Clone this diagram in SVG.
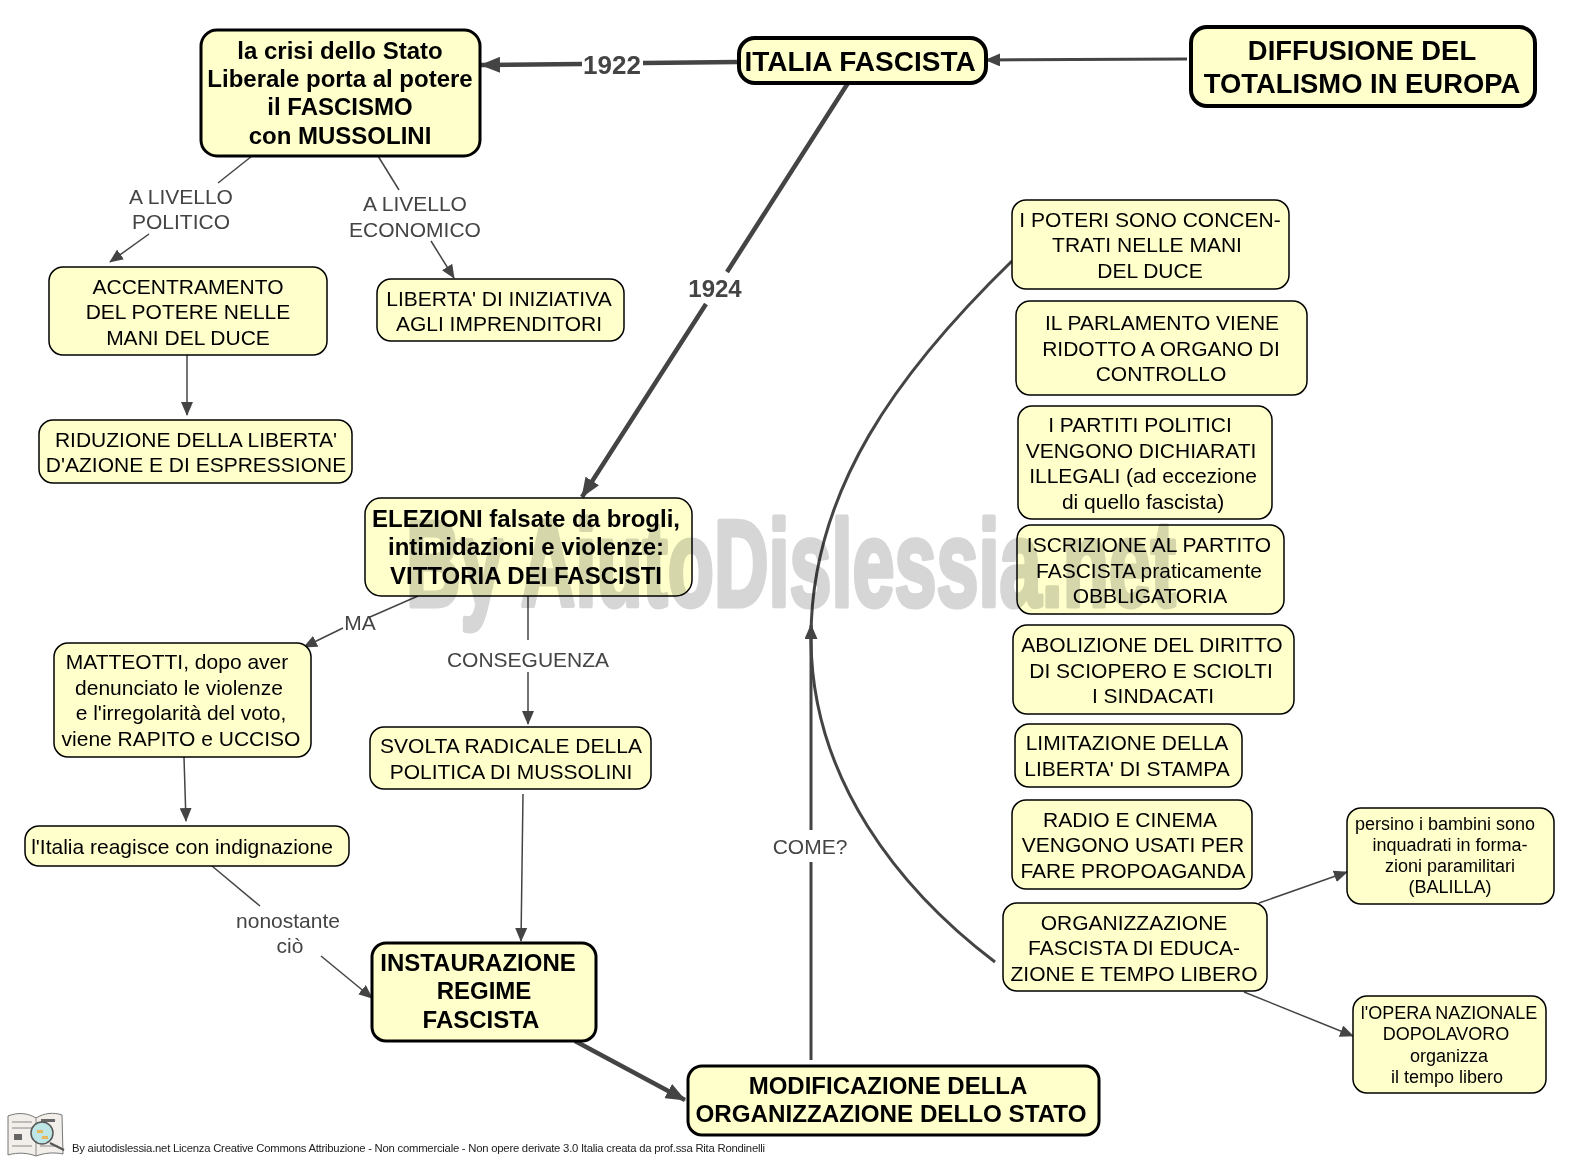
<svg xmlns="http://www.w3.org/2000/svg" width="1578" height="1160" viewBox="0 0 1578 1160">
<style>
text{font-family:"Liberation Sans",Arial,sans-serif;text-anchor:middle;fill:#000}
.b{fill:#ffffcc;stroke:#000;stroke-width:1.5}
.m{stroke-width:3}
.h{stroke-width:4}
.t{font-size:21px}
.s{font-size:18px}
.bt{font-size:24px;font-weight:bold}
.l{font-size:21px;fill:#444}
.c{fill:none;stroke:#444;stroke-width:1.5}
.c2{fill:none;stroke:#444;stroke-width:3}
.c3{fill:none;stroke:#444;stroke-width:4.5}
</style>
<defs>
<marker id="a" markerUnits="userSpaceOnUse" markerWidth="14" markerHeight="12" refX="13" refY="6" orient="auto"><path d="M0 0L14 6L0 12Z" fill="#444"/></marker>
<marker id="a1" markerUnits="userSpaceOnUse" markerWidth="15" markerHeight="13" refX="14" refY="6.500" orient="auto"><path d="M0 0L15 6.500L0 13Z" fill="#444"/></marker>
<marker id="a2" markerUnits="userSpaceOnUse" markerWidth="20" markerHeight="16" refX="19" refY="8" orient="auto"><path d="M0 0L20 8L0 16Z" fill="#444"/></marker>
</defs>
<rect width="1578" height="1160" fill="#fff"/>
<g id="connectors">
<path class="c3" d="M738 62L643 63"/>
<path class="c3" d="M582 64L481 65" marker-end="url(#a2)"/>
<path class="c2" d="M1187 59L986 60" marker-end="url(#a1)"/>
<path class="c3" d="M848 83L727 272M706 304L582 497" marker-end="url(#a2)"/>
<path class="c" d="M252 156L218 183"/>
<path class="c" d="M149 234L110 262" marker-end="url(#a)"/>
<path class="c" d="M378 156L399 190"/>
<path class="c" d="M431 241L454 278" marker-end="url(#a)"/>
<path class="c" d="M187 355L187 415" marker-end="url(#a)"/>
<path class="c" d="M418 596L370 617"/>
<path class="c" d="M343 628L304 647" marker-end="url(#a)"/>
<path class="c" d="M528 596L528 640"/>
<path class="c" d="M528 672L528 724" marker-end="url(#a)"/>
<path class="c" d="M184 757L186 821" marker-end="url(#a)"/>
<path class="c" d="M523 794L521 941" marker-end="url(#a)"/>
<path class="c" d="M212 866L260 906"/>
<path class="c" d="M321 956L372 998" marker-end="url(#a)"/>
<path class="c3" d="M575 1041L685 1100" marker-end="url(#a2)"/>
<path class="c2" d="M811 1060L811 862M811 830L811 625" marker-end="url(#a1)"/>
<path class="c2" d="M1012 261C900 370 810 490 811 640C812 780 900 890 995 962"/>
<path class="c" d="M1259 903L1347 872" marker-end="url(#a)"/>
<path class="c" d="M1244 992L1353 1036" marker-end="url(#a)"/>
</g>
<g id="labels">
<text x="612" y="74" font-size="26" font-weight="bold" style="fill:#444">1922</text>
<text x="715" y="297" font-size="24" font-weight="bold" style="fill:#444">1924</text>
<text class="l" x="181" y="204">A LIVELLO</text><text class="l" x="181" y="229">POLITICO</text>
<text class="l" x="415" y="211">A LIVELLO</text><text class="l" x="415" y="237">ECONOMICO</text>
<text class="l" x="360" y="630">MA</text>
<text class="l" x="528" y="667">CONSEGUENZA</text>
<text class="l" x="288" y="928">nonostante</text><text class="l" x="290" y="953">ciò</text>
<text class="l" x="810" y="854">COME?</text>
</g>
<g id="n1"><rect class="b h" x="1191" y="27" width="344" height="79" rx="16"/><text class="bt" style="font-size:27.400px" x="1362" y="60">DIFFUSIONE DEL</text><text class="bt" style="font-size:27.400px" x="1362" y="93">TOTALISMO IN EUROPA</text></g>
<g id="n2"><rect class="b h" x="739" y="38" width="247" height="45" rx="16"/><text class="bt" style="font-size:28px" x="860" y="71">ITALIA FASCISTA</text></g>
<g id="n3"><rect class="b m" x="201" y="30" width="279" height="126" rx="16"/><text class="bt" x="340" y="59">la crisi dello Stato</text><text class="bt" x="340" y="87">Liberale porta al potere</text><text class="bt" x="340" y="115">il FASCISMO</text><text class="bt" x="340" y="144">con MUSSOLINI</text></g>
<g id="n4"><rect class="b" x="49" y="267" width="278" height="88" rx="14"/><text class="t" x="188" y="294">ACCENTRAMENTO</text><text class="t" x="188" y="319">DEL POTERE NELLE</text><text class="t" x="188" y="345">MANI DEL DUCE</text></g>
<g id="n5"><rect class="b" x="377" y="279" width="247" height="62" rx="14"/><text class="t" x="499" y="306">LIBERTA' DI INIZIATIVA</text><text class="t" x="499" y="331">AGLI IMPRENDITORI</text></g>
<g id="n6"><rect class="b" x="39" y="420" width="313" height="63" rx="14"/><text class="t" x="196" y="447">RIDUZIONE DELLA LIBERTA'</text><text class="t" x="196" y="472">D'AZIONE E DI ESPRESSIONE</text></g>
<g id="n7"><rect class="b" x="365" y="498" width="327" height="98" rx="16"/><text class="bt" x="526" y="527">ELEZIONI falsate da brogli,</text><text class="bt" x="526" y="555">intimidazioni e violenze:</text><text class="bt" x="526" y="584">VITTORIA DEI FASCISTI</text></g>
<g id="n8"><rect class="b" x="54" y="643" width="257" height="114" rx="14"/><text class="t" x="177" y="669">MATTEOTTI, dopo aver</text><text class="t" x="179" y="695">denunciato le violenze</text><text class="t" x="181" y="720">e l'irregolarità del voto,</text><text class="t" x="181" y="746">viene RAPITO e UCCISO</text></g>
<g id="n9"><rect class="b" x="370" y="727" width="281" height="62" rx="14"/><text class="t" x="511" y="753">SVOLTA RADICALE DELLA</text><text class="t" x="511" y="779">POLITICA DI MUSSOLINI</text></g>
<g id="n10"><rect class="b" x="25" y="826" width="324" height="40" rx="14"/><text class="t" x="182" y="854">l'Italia reagisce con indignazione</text></g>
<g id="n11"><rect class="b m" x="372" y="943" width="224" height="98" rx="14"/><text class="bt" x="478" y="971">INSTAURAZIONE</text><text class="bt" x="484" y="999">REGIME</text><text class="bt" x="481" y="1028">FASCISTA</text></g>
<g id="n12"><rect class="b m" x="688" y="1066" width="411" height="69" rx="14"/><text class="bt" x="888" y="1094">MODIFICAZIONE DELLA</text><text class="bt" x="891" y="1122" style="font-size:24.200px">ORGANIZZAZIONE DELLO STATO</text></g>
<g id="n13"><rect class="b" x="1012" y="200" width="277" height="89" rx="14"/><text class="t" x="1150" y="227">I POTERI SONO CONCEN-</text><text class="t" x="1147" y="252">TRATI NELLE MANI</text><text class="t" x="1150" y="278">DEL DUCE</text></g>
<g id="n14"><rect class="b" x="1016" y="301" width="291" height="94" rx="14"/><text class="t" x="1162" y="330">IL PARLAMENTO VIENE</text><text class="t" x="1161" y="356">RIDOTTO A ORGANO DI</text><text class="t" x="1161" y="381">CONTROLLO</text></g>
<g id="n15"><rect class="b" x="1018" y="406" width="254" height="113" rx="14"/><text class="t" x="1140" y="432">I PARTITI POLITICI</text><text class="t" x="1141" y="458">VENGONO DICHIARATI</text><text class="t" x="1143" y="483">ILLEGALI (ad eccezione</text><text class="t" x="1143" y="509">di quello fascista)</text></g>
<g id="n16"><rect class="b" x="1017" y="525" width="267" height="89" rx="14"/><text class="t" x="1149" y="552">ISCRIZIONE AL PARTITO</text><text class="t" x="1149" y="578">FASCISTA praticamente</text><text class="t" x="1150" y="603">OBBLIGATORIA</text></g>
<g id="n17"><rect class="b" x="1013" y="625" width="281" height="89" rx="14"/><text class="t" x="1152" y="652">ABOLIZIONE DEL DIRITTO</text><text class="t" x="1151" y="678">DI SCIOPERO E SCIOLTI</text><text class="t" x="1153" y="703">I SINDACATI</text></g>
<g id="n18"><rect class="b" x="1015" y="724" width="227" height="63" rx="14"/><text class="t" x="1127" y="750">LIMITAZIONE DELLA</text><text class="t" x="1127" y="776">LIBERTA' DI STAMPA</text></g>
<g id="n19"><rect class="b" x="1012" y="800" width="240" height="89" rx="14"/><text class="t" x="1130" y="827">RADIO E CINEMA</text><text class="t" x="1133" y="852">VENGONO USATI PER</text><text class="t" x="1133" y="878">FARE PROPOAGANDA</text></g>
<g id="n20"><rect class="b" x="1003" y="903" width="264" height="88" rx="14"/><text class="t" x="1134" y="930">ORGANIZZAZIONE</text><text class="t" x="1134" y="955">FASCISTA DI EDUCA-</text><text class="t" x="1134" y="981">ZIONE E TEMPO LIBERO</text></g>
<g id="n21"><rect class="b" x="1347" y="808" width="207" height="96" rx="14"/><text class="s" x="1445" y="830">persino i bambini sono</text><text class="s" x="1450" y="851">inquadrati in forma-</text><text class="s" x="1450" y="872">zioni paramilitari</text><text class="s" x="1450" y="893">(BALILLA)</text></g>
<g id="n22"><rect class="b" x="1353" y="996" width="193" height="97" rx="14"/><text class="s" x="1449" y="1019">l'OPERA NAZIONALE</text><text class="s" x="1446" y="1040">DOPOLAVORO</text><text class="s" x="1449" y="1062">organizza</text><text class="s" x="1447" y="1083">il tempo libero</text></g>
<text id="watermark" x="406" y="606" font-size="122" font-weight="bold" textLength="770" lengthAdjust="spacingAndGlyphs" style="text-anchor:start;fill:#d6d6d6;stroke:#d6d6d6;stroke-width:5;stroke-linejoin:round;mix-blend-mode:multiply">By AiutoDislessia.net</text>
<g id="logo">
<path d="M8 1116C18 1112 28 1113 36 1118C44 1113 54 1112 62 1115L63 1154C54 1152 44 1153 36 1156C28 1153 18 1152 8 1155Z" fill="#f2efea" stroke="#777"/>
<path d="M36 1118V1156M12 1122H32M12 1128H32M12 1146H32M40 1146H58" stroke="#888" fill="none"/>
<path d="M14 1134h8v6h-8zM41 1119h14v3h-14z" fill="#666"/>
<path d="M50 1143L64 1150" stroke="#555" stroke-width="2"/>
<circle cx="42" cy="1133" r="11" fill="#bfe6e6" stroke="#555" stroke-width="1.500"/>
<path d="M37 1130h6v3h-6zM42 1136h6v3h-6z" fill="#e6b85c"/>
</g>
<text x="72" y="1152" font-size="11.300" textLength="693" style="text-anchor:start;fill:#222">By aiutodislessia.net Licenza Creative Commons Attribuzione - Non commerciale - Non opere derivate 3.0 Italia creata da prof.ssa Rita Rondinelli</text>
</svg>
